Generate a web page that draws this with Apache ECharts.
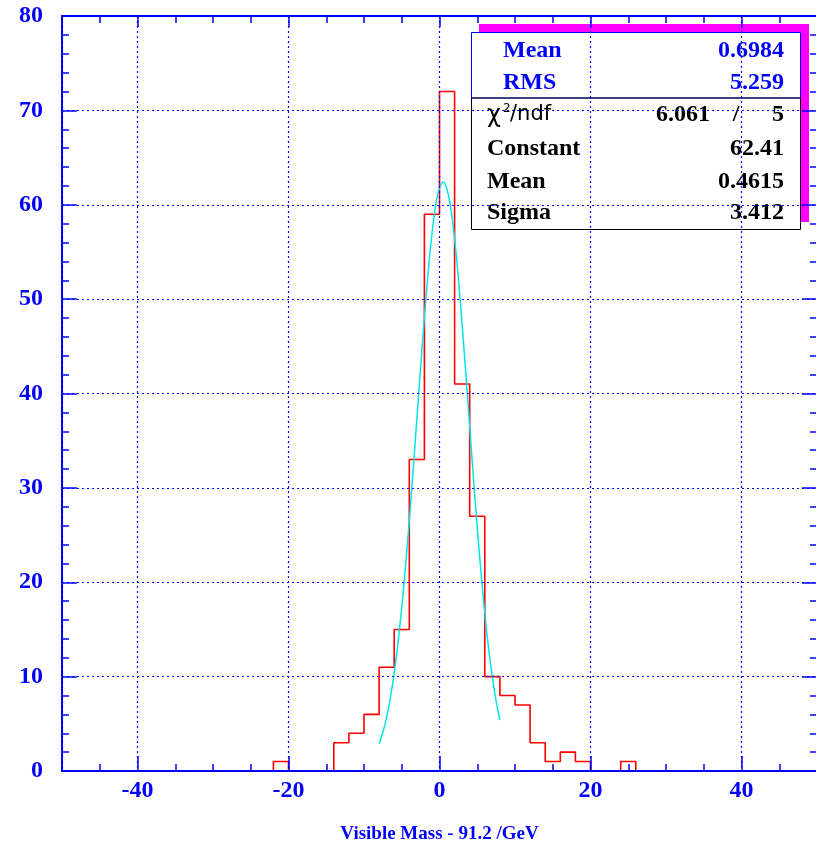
<!DOCTYPE html>
<html><head><meta charset="utf-8">
<script src="https://cdn.jsdelivr.net/npm/echarts@6/dist/echarts.min.js"></script>
<style>html,body{margin:0;padding:0;background:#fff}#c{width:816px;height:847px}</style>
</head><body><div id="c"></div>
<script>
// Histogram: low edges of 2-unit bins and counts
const binLow = [-50,-48,-46,-44,-42,-40,-38,-36,-34,-32,
                -30,-28,-26,-24,-22,-20,-18,-16,-14,-12,
                -10,-8,-6,-4,-2,0,2,4,6,8,
                10,12,14,16,18,20,22,24,26,28,
                30,32,34,36,38,40,42,44,46,48];
const binHigh = 50;
const counts = [0,0,0,0,0,0,0,0,0,0,
                0,0,0,0,1,0,0,0,3,4,
                6,11,15,33,59,72,41,27,10,8,
                7,3,1,2,1,0,0,1,0,0,
                0,0,0,0,0,0,0,0,0,0];
// Fitted gaussian curve
const fitX = [-8,-7.5,-7,-6.5,-6,-5.5,-5,-4.5,-4,-3.5,-3,-2.5,-2,-1.5,-1,-0.5,0,0.5,1,1.5,2,2.5,3,3.5,4,4.5,5,5.5,6,6.5,7,7.5,8];
const fitY = [2.9,4.1,5.7,7.8,10.4,13.6,17.3,21.7,26.5,31.8,37.3,42.8,48.1,52.9,56.9,60.0,61.8,62.4,61.6,59.6,56.4,52.2,47.3,42.0,36.5,31.0,25.8,21.0,16.7,13.0,10.0,7.4,5.4];
const xTitle = 'Visible Mass - 91.2 /GeV';
const statsTop = [['Mean','0.6984'],['RMS','5.259']];
const chiLabel = ['χ','2','/ndf'];
const chiValues = ['6.061','/','5'];
const fitRows = [['Constant','62.41'],['Mean','0.4615'],['Sigma','3.412']];

const BLUE = '#0000ff';
const serifBold = 'bold 24px "Liberation Serif"';

const histData = binLow.map((x, i) => [x, counts[i]]);
histData.push([binHigh, counts[counts.length - 1]]);
const fitData = fitX.map((x, i) => [x, fitY[i]]);

function xAxisBase(pos, minor) {
  return {
    type: 'value', gridIndex: 0, position: pos, min: -50, max: 50, z: 3,
    axisLine: { show: !minor, onZero: false, lineStyle: { color: BLUE, width: 2 } },
    axisTick: { show: true, inside: true, length: minor ? 7 : (pos === 'top' ? 11 : 15), lineStyle: { color: BLUE, width: 1.5 } },
    axisLabel: { show: false },
    splitLine: { show: false }
  };
}
const xMain = xAxisBase('bottom', false);
xMain.splitNumber = 5;
xMain.axisLabel = {
  show: true, margin: 8, color: BLUE, fontFamily: 'Liberation Serif', fontWeight: 'bold', fontSize: 24,
  formatter: v => (v % 20 === 0 && Math.abs(v) < 50) ? String(v) : ''
};
xMain.splitLine = { show: true, lineStyle: { color: BLUE, type: [2, 3], width: 1.2 } };
xMain.name = xTitle;
xMain.nameLocation = 'middle';
xMain.nameGap = 54;
xMain.nameTextStyle = { color: BLUE, fontFamily: 'Liberation Serif', fontWeight: 'bold', fontSize: 19 };
const xMinor = xAxisBase('bottom', true); xMinor.interval = 5;
const xTop = xAxisBase('top', false); xTop.splitNumber = 5;
const xTopMinor = xAxisBase('top', true); xTopMinor.interval = 5;

function yAxisBase(pos) {
  return {
    type: 'value', gridIndex: 0, position: pos, min: 0, max: 80, interval: 10, z: 3,
    axisLine: { show: true, onZero: false, lineStyle: { color: BLUE, width: 2 } },
    axisTick: { show: true, inside: true, length: 15, lineStyle: { color: BLUE, width: 1.5 } },
    minorTick: { show: true, splitNumber: 5, length: 7, lineStyle: { color: BLUE, width: 1.5 } },
    axisLabel: { show: false },
    splitLine: { show: false }
  };
}
const yMain = yAxisBase('left');
yMain.axisLabel = { show: true, margin: 19, color: BLUE, fontFamily: 'Liberation Serif', fontWeight: 'bold', fontSize: 24 };
yMain.splitLine = { show: true, lineStyle: { color: BLUE, type: [2, 3], width: 1.2 } };
const yRight = yAxisBase('right');

// stats box graphics
const BX = 471, BY = 32, BW = 330, BH = 198, SH = 8;
const graphics = [
  { type: 'rect', z: 1, z2: 1, shape: { x: BX + SH, y: BY - SH, width: BW, height: BH }, style: { fill: '#ff00ff' } },
  { type: 'rect', z: 1, z2: 2, shape: { x: BX, y: BY, width: BW, height: BH }, style: { fill: '#ffffff' } },
  { type: 'rect', z: 1, z2: 3, shape: { x: BX + 0.5, y: BY + 0.5, width: BW - 1, height: 65.5 }, style: { fill: 'none', stroke: BLUE, lineWidth: 1 } },
  { type: 'rect', z: 1, z2: 4, shape: { x: BX + 0.5, y: 98, width: BW - 1, height: BY + BH - 98 - 0.5 }, style: { fill: 'none', stroke: '#000', lineWidth: 1 } }
];
const topYs = [50.5, 83];
statsTop.forEach((r, i) => {
  graphics.push({ type: 'text', z: 1, z2: 5, x: 503, y: topYs[i], style: { text: r[0], font: serifBold, fill: BLUE, align: 'left', verticalAlign: 'middle' } });
  graphics.push({ type: 'text', z: 1, z2: 5, x: 784, y: topYs[i], style: { text: r[1], font: serifBold, fill: BLUE, align: 'right', verticalAlign: 'middle' } });
});
graphics.push({ type: 'text', z: 1, z2: 5, x: 487, y: 116, style: { text: chiLabel[0], font: '24px "DejaVu Sans"', fill: '#000', align: 'left', verticalAlign: 'middle' } });
graphics.push({ type: 'text', z: 1, z2: 5, x: 503, y: 109, style: { text: chiLabel[1], font: '12px "DejaVu Sans"', fill: '#000', align: 'left', verticalAlign: 'middle' } });
graphics.push({ type: 'text', z: 1, z2: 5, x: 510, y: 115, style: { text: chiLabel[2], font: '21px "DejaVu Sans"', fill: '#000', align: 'left', verticalAlign: 'middle' } });
graphics.push({ type: 'text', z: 1, z2: 5, x: 710, y: 115, style: { text: chiValues[0], font: serifBold, fill: '#000', align: 'right', verticalAlign: 'middle' } });
graphics.push({ type: 'text', z: 1, z2: 5, x: 736, y: 115, style: { text: chiValues[1], font: serifBold, fill: '#000', align: 'center', verticalAlign: 'middle' } });
graphics.push({ type: 'text', z: 1, z2: 5, x: 784, y: 115, style: { text: chiValues[2], font: serifBold, fill: '#000', align: 'right', verticalAlign: 'middle' } });
const fitYs = [148.7, 181.3, 213];
fitRows.forEach((r, i) => {
  graphics.push({ type: 'text', z: 1, z2: 5, x: 487, y: fitYs[i], style: { text: r[0], font: serifBold, fill: '#000', align: 'left', verticalAlign: 'middle' } });
  graphics.push({ type: 'text', z: 1, z2: 5, x: 784, y: fitYs[i], style: { text: r[1], font: serifBold, fill: '#000', align: 'right', verticalAlign: 'middle' } });
});

const chart = echarts.init(document.getElementById('c'), null, { renderer: 'canvas' });
chart.setOption({
  animation: false,
  backgroundColor: '#ffffff',
  grid: { left: 62, top: 16, width: 755, height: 755, containLabel: false, outerBoundsMode: 'none' },
  xAxis: [xMain, xMinor, xTop, xTopMinor],
  yAxis: [yMain, yRight],
  graphic: graphics,
  series: [
    { type: 'line', xAxisIndex: 0, yAxisIndex: 0, data: histData, step: 'end', showSymbol: false, z: 2,
      lineStyle: { color: '#ff0000', width: 1.6 }, itemStyle: { color: '#ff0000' } },
    { type: 'line', xAxisIndex: 0, yAxisIndex: 0, data: fitData, smooth: 0.3, showSymbol: false, z: 2,
      lineStyle: { color: '#00e6e6', width: 1.5 }, itemStyle: { color: '#00e6e6' } }
  ]
});
</script></body></html>
